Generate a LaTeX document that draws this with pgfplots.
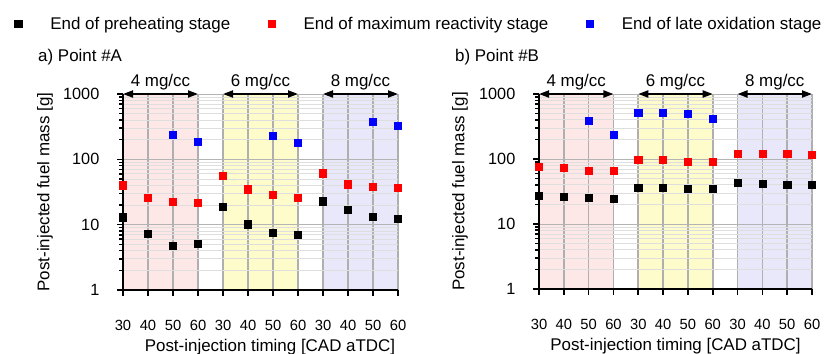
\documentclass[border=0pt]{standalone}
\usepackage{fontspec}
\setmainfont{Liberation Sans}
\usepackage{pgfplots}
\pgfplotsset{compat=1.18}
\usetikzlibrary{arrows.meta}
\definecolor{shRed}{RGB}{253,231,231}
\definecolor{shYel}{RGB}{255,252,204}
\definecolor{shBlu}{RGB}{232,232,250}
\definecolor{vgrid}{RGB}{175,175,175}
\definecolor{hgrid}{RGB}{180,180,180}
\definecolor{mgrid}{RGB}{222,222,222}
\newcommand{\fs}{\fontsize{17}{20}\selectfont}
\newcommand{\fy}{\fontsize{16.3}{19}\selectfont}
\newcommand{\fx}{\fontsize{14.8}{17}\selectfont}
\newcommand{\bgshade}{%
  \addplot[forget plot, on layer=axis background, fill=shRed, draw=none] coordinates {(0,1)(3,1)(3,1000)(0,1000)} -- cycle;
  \addplot[forget plot, on layer=axis background, fill=shYel, draw=none] coordinates {(4,1)(7,1)(7,1000)(4,1000)} -- cycle;
  \addplot[forget plot, on layer=axis background, fill=shBlu, draw=none] coordinates {(8,1)(11,1)(11,1000)(8,1000)} -- cycle;
  \draw[{Triangle[length=10bp,width=7bp]}-{Triangle[length=10bp,width=7bp]}, line width=2bp] (axis cs:0,1000) -- (axis cs:3,1000);
  \draw[{Triangle[length=10bp,width=7bp]}-{Triangle[length=10bp,width=7bp]}, line width=2bp] (axis cs:4,1000) -- (axis cs:7,1000);
  \draw[{Triangle[length=10bp,width=7bp]}-{Triangle[length=10bp,width=7bp]}, line width=2bp] (axis cs:8,1000) -- (axis cs:11,1000);
  \node[font=\fs, anchor=base, inner sep=0pt, yshift=7.5bp] at (axis cs:1.5,1000) {4 mg/cc};
  \node[font=\fs, anchor=base, inner sep=0pt, yshift=7.5bp] at (axis cs:5.5,1000) {6 mg/cc};
  \node[font=\fs, anchor=base, inner sep=0pt, yshift=7.5bp] at (axis cs:9.5,1000) {8 mg/cc};
}
\begin{document}
\begin{tikzpicture}
% Panel A
\begin{axis}[
    set layers,
    at={(123bp,64bp)}, anchor=south west,
    scale only axis, width=275bp, height=196bp,
    ymode=log, ymin=1, ymax=1000, xmin=0, xmax=11,
    xtick={0,...,11},
    xticklabels={30,40,50,60,30,40,50,60,30,40,50,60},
    ytick={1,10,100,1000}, yticklabels={1,10,100,1000},
    axis x line*=bottom, axis y line*=left,
    axis line style={line width=2.3bp, black},
    xmajorgrids, ymajorgrids, yminorgrids,
    major x grid style={vgrid, line width=1.6bp},
    major y grid style={hgrid, line width=0.9bp},
    minor y grid style={mgrid, line width=0.8bp},
    tick style={black, line width=1.6bp},
    tick align=outside,
    major tick length=6bp, minor tick length=4bp,
    xticklabel style={font=\fx, anchor=base, inner sep=0pt, yshift=-34.7bp},
    yticklabel style={font=\fy, anchor=east, inner sep=0pt, xshift=-17.5bp},
    label style={font=\fs},
    ylabel style={at={(axis description cs:-0.2836,0.5)}, anchor=center},
    xlabel style={at={(axis description cs:0.5345,0)}, anchor=base, inner sep=0pt, yshift=-61.5bp},
    ylabel={Post-injected fuel mass [g]},
    xlabel={Post-injection timing [CAD aTDC]},
    clip=false,
    legend columns=3,
    legend style={draw=none, fill=none, inner sep=0pt, outer sep=0pt,
      at={(rel axis cs:-0.3945,1.357)}, anchor=west, font=\fs,
      nodes={inner sep=0pt},
      /tikz/every even column/.append style={column sep=37.5bp}},
    legend image code/.code={\path (-3.5bp,0bp) (32bp,0bp); \draw plot coordinates {(0bp,0bp)};},
]
\bgshade
\addplot[only marks, mark=square*, mark size=3.6bp, color=black] coordinates {(0,13.0)(1,7.3)(2,4.8)(3,5.1)(4,18.7)(5,10.2)(6,7.6)(7,7.1)(8,22.9)(9,17.1)(10,13.2)(11,12.3)};
\addlegendentry{End of preheating stage}
\addplot[only marks, mark=square*, mark size=3.6bp, color=red] coordinates {(0,40.3)(1,25.8)(2,22.4)(3,21.6)(4,56)(5,35)(6,28.6)(7,25.8)(8,61.5)(9,41.7)(10,37.9)(11,36.6)};
\addlegendentry{End of maximum reactivity stage}
\addplot[only marks, mark=square*, mark size=3.6bp, color=blue] coordinates {(2,235)(3,184)(6,227)(7,180)(10,372)(11,323)};
\addlegendentry{End of late oxidation stage}
\node[font=\fs, anchor=base west, inner sep=0pt] at (rel axis cs:-0.309,1.1648) {a) Point \#A};
\end{axis}
% Panel B
\begin{axis}[
    set layers,
    at={(539bp,65bp)}, anchor=south west,
    scale only axis, width=273bp, height=195bp,
    ymode=log, ymin=1, ymax=1000, xmin=0, xmax=11,
    xtick={0,...,11},
    xticklabels={30,40,50,60,30,40,50,60,30,40,50,60},
    ytick={1,10,100,1000}, yticklabels={1,10,100,1000},
    axis x line*=bottom, axis y line*=left,
    axis line style={line width=2.3bp, black},
    xmajorgrids, ymajorgrids, yminorgrids,
    major x grid style={vgrid, line width=1.6bp},
    major y grid style={hgrid, line width=0.9bp},
    minor y grid style={mgrid, line width=0.8bp},
    tick style={black, line width=1.6bp},
    tick align=outside,
    major tick length=6bp, minor tick length=4bp,
    xticklabel style={font=\fx, anchor=base, inner sep=0pt, yshift=-34.7bp},
    yticklabel style={font=\fy, anchor=east, inner sep=0pt, xshift=-17.5bp},
    label style={font=\fs},
    ylabel style={at={(axis description cs:-0.2894,0.5)}, anchor=center},
    xlabel style={at={(axis description cs:0.5,0)}, anchor=base, inner sep=0pt, yshift=-61.5bp},
    ylabel={Post-injected fuel mass [g]},
    xlabel={Post-injection timing [CAD aTDC]},
    clip=false,
]
\bgshade
\addplot[only marks, mark=square*, mark size=3.6bp, color=black] coordinates {(0,27)(1,26)(2,25.1)(3,24.2)(4,36.2)(5,35.8)(6,35)(7,34.5)(8,42.7)(9,41.2)(10,40.3)(11,39.8)};
\addplot[only marks, mark=square*, mark size=3.6bp, color=red] coordinates {(0,75.3)(1,72.7)(2,66.2)(3,66.2)(4,96.6)(5,96.6)(6,91)(7,89.9)(8,120.8)(9,119.4)(10,119.4)(11,115.3)};
\addplot[only marks, mark=square*, mark size=3.6bp, color=blue] coordinates {(2,385)(3,239)(4,511)(5,511)(6,498)(7,412)};
\node[font=\fs, anchor=base west, inner sep=0pt] at (rel axis cs:-0.3077,1.1657) {b) Point \#B};
\end{axis}
\pgfresetboundingbox
\path[use as bounding box] (0bp,0bp) rectangle (827bp,354bp);
\end{tikzpicture}
\end{document}
